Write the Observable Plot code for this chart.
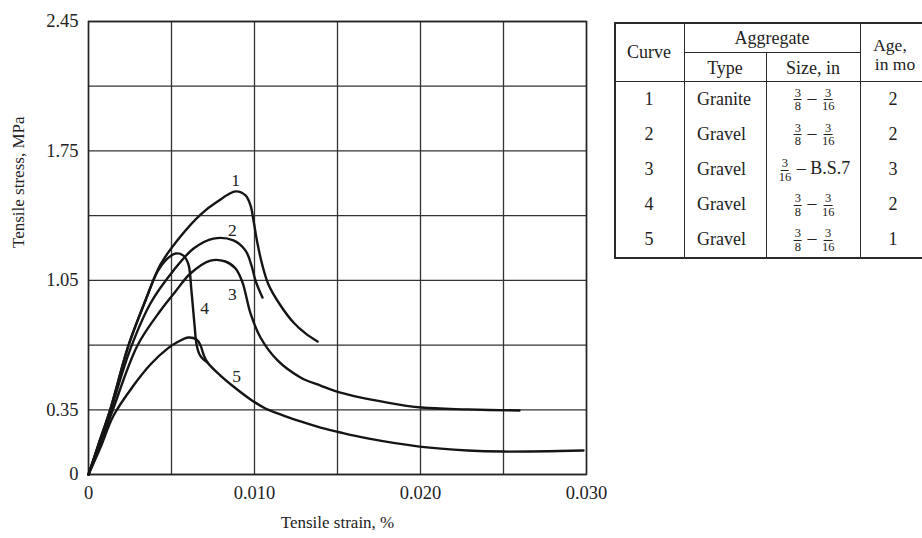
<!DOCTYPE html>
<html>
<head>
<meta charset="utf-8">
<script src="https://cdn.jsdelivr.net/npm/d3@7"></script>
<script src="https://cdn.jsdelivr.net/npm/@observablehq/plot@0.6"></script>
<style>
  html, body { margin: 0; padding: 0; background: #fff; }
  #wrap { position: relative; width: 922px; height: 538px; overflow: hidden; font-family: "Liberation Serif", "DejaVu Serif", serif; color: #222; }
  #wrap svg { position: absolute; left: 0; top: 0; }
  .ln { position: absolute; background: #2a2a2a; }
  .tx { position: absolute; transform: translate(-50%, -50%); font-size: 18px; white-space: nowrap; line-height: 1.0; text-align: center; }
  .txl { position: absolute; transform: translate(0, -50%); font-size: 18px; white-space: nowrap; line-height: 1.0; }
  .frac { display: inline-flex; flex-direction: column; align-items: center; font-size: 12.5px; line-height: 1.0; vertical-align: middle; margin: 0 1px; }
  .frac .n { border-bottom: 1px solid #222; padding: 0 1px; }
</style>
</head>
<body>
<div id="wrap"></div>
<script>
// ---- Data (strain in %, stress in MPa) ----
const curve1X = [0, 0.00060, 0.00133, 0.00241, 0.00343, 0.00434, 0.00554, 0.00675, 0.00777, 0.00886, 0.00946, 0.00976, 0.00994, 0.01018, 0.01048, 0.01084, 0.01157, 0.01235, 0.01307, 0.01380];
const curve1Y = [0, 0.162, 0.357, 0.698, 0.941, 1.136, 1.287, 1.406, 1.476, 1.531, 1.509, 1.455, 1.374, 1.249, 1.130, 1.028, 0.914, 0.822, 0.763, 0.719];

const curve2X = [0, 0.00060, 0.00133, 0.00253, 0.00373, 0.00512, 0.00633, 0.00753, 0.00873, 0.00946, 0.00982, 0.01006, 0.01048];
const curve2Y = [0, 0.157, 0.346, 0.681, 0.925, 1.103, 1.222, 1.276, 1.266, 1.211, 1.130, 1.049, 0.957];

const curve3X = [0, 0.00066, 0.00145, 0.00295, 0.00434, 0.00524, 0.00614, 0.00735, 0.00825, 0.00886, 0.00928, 0.00976, 0.01036, 0.01139, 0.01277, 0.01398, 0.01518, 0.01801, 0.02006, 0.02283, 0.02596];
const curve3Y = [0, 0.151, 0.346, 0.698, 0.887, 0.990, 1.087, 1.157, 1.152, 1.114, 1.038, 0.871, 0.741, 0.617, 0.525, 0.481, 0.443, 0.389, 0.362, 0.352, 0.346];

const curve4X = [0, 0.00060, 0.00133, 0.00241, 0.00343, 0.00416, 0.00470, 0.00524, 0.00572, 0.00602, 0.00620, 0.00639, 0.00651, 0.00669, 0.00693, 0.00717];
const curve4Y = [0, 0.162, 0.357, 0.698, 0.941, 1.098, 1.163, 1.195, 1.184, 1.136, 0.995, 0.806, 0.703, 0.649, 0.622, 0.606];

const curve5X = [0, 0.00072, 0.00151, 0.00271, 0.00373, 0.00476, 0.00542, 0.00602, 0.00651, 0.00675, 0.00693, 0.00717, 0.00795, 0.00873, 0.00976, 0.01066, 0.01175, 0.01277, 0.01398, 0.01518, 0.01681, 0.01994, 0.02283, 0.02494, 0.02982];
const curve5Y = [0, 0.146, 0.319, 0.481, 0.595, 0.681, 0.719, 0.741, 0.730, 0.698, 0.649, 0.606, 0.535, 0.476, 0.406, 0.357, 0.319, 0.287, 0.254, 0.227, 0.195, 0.151, 0.130, 0.124, 0.130];

const curveNames = ["1", "2", "3", "4", "5"];
const labelX = [0.00886, 0.00867, 0.00867, 0.00699, 0.00892];
const labelY = [1.590, 1.320, 0.973, 0.898, 0.530];

const xTicks = [0, 0.010, 0.020, 0.030];
const yTicks = [0, 0.35, 1.05, 1.75, 2.45];
const xGrid = [0, 0.005, 0.010, 0.015, 0.020, 0.025, 0.030];
const yGrid = [0, 0.35, 0.70, 1.05, 1.40, 1.75, 2.10, 2.45];

// Table data
const tableCurve = ["1", "2", "3", "4", "5"];
const tableType = ["Granite", "Gravel", "Gravel", "Gravel", "Gravel"];
const sizeFrom = ["3/8", "3/8", "3/16", "3/8", "3/8"];
const sizeTo = ["3/16", "3/16", "B.S.7", "3/16", "3/16"];
const tableAge = ["2", "2", "3", "2", "1"];

// ---- Build rows ----
const allX = [curve1X, curve2X, curve3X, curve4X, curve5X];
const allY = [curve1Y, curve2Y, curve3Y, curve4Y, curve5Y];
const rows = [];
allX.forEach((xs, i) => xs.forEach((x, j) => rows.push({curve: curveNames[i], x, y: allY[i][j]})));
const labels = curveNames.map((c, i) => ({c, x: labelX[i], y: labelY[i]}));

const serif = "'Liberation Serif', serif";
const chart = Plot.plot({
  width: 922,
  height: 538,
  marginLeft: 88,
  marginRight: 336,
  marginTop: 21,
  marginBottom: 64,
  style: {fontFamily: serif, color: "#222", background: "transparent"},
  x: {domain: [0, 0.03]},
  y: {domain: [0, 2.45]},
  marks: [
    Plot.ruleX(xGrid, {stroke: "#333", strokeWidth: 1.3}),
    Plot.ruleY(yGrid, {stroke: "#333", strokeWidth: 1.3}),
    Plot.frame({stroke: "#222", strokeWidth: 1.5}),
    Plot.axisX({ticks: xTicks, tickSize: 0, tickPadding: 11, fontSize: 18.5, fontFamily: serif, fill: "#222",
      tickFormat: d => d === 0 ? "0" : d.toFixed(3), label: null}),
    Plot.axisY({ticks: yTicks, tickSize: 0, tickPadding: 10, fontSize: 18.5, fontFamily: serif, fill: "#222",
      tickFormat: d => d === 0 ? "0" : d.toFixed(2), label: null}),
    Plot.line(rows, {x: "x", y: "y", z: "curve", stroke: "#151515", strokeWidth: 2.4, curve: "catmull-rom"}),
    Plot.text(labels, {x: "x", y: "y", text: "c", fontSize: 17.5, fontFamily: serif, fill: "#222"}),
    Plot.text(["Tensile strain, %"], {frameAnchor: "bottom", dy: 53, fontSize: 17, fontFamily: serif, fill: "#222"}),
    Plot.text(["Tensile stress, MPa"], {frameAnchor: "left", dx: -70, rotate: -90, fontSize: 17, fontFamily: serif, fill: "#222"})
  ]
});

const wrap = document.getElementById("wrap");
wrap.appendChild(chart);

// ---- Table (HTML) ----
function line(l, t, w, h) {
  const d = document.createElement("div");
  d.className = "ln";
  Object.assign(d.style, {left: l + "px", top: t + "px", width: w + "px", height: h + "px"});
  wrap.appendChild(d);
}
function text(html, cx, cy, cls = "tx") {
  const d = document.createElement("div");
  d.className = cls;
  d.innerHTML = html;
  Object.assign(d.style, {left: cx + "px", top: cy + "px"});
  wrap.appendChild(d);
  return d;
}
function frac(s) {
  if (!s.includes("/")) return s;
  const [n, m] = s.split("/");
  return `<span class="frac"><span class="n">${n}</span><span>${m}</span></span>`;
}

const tL = 614, tT = 22, tB = 257, tR = 960;
const c1 = 684, c2 = 766, c3 = 860;
const h1 = 52, h2 = 81;
line(tL, tT, tR - tL, 1.5);
line(tL, tB, tR - tL, 1.5);
line(tL, tT, 1.5, tB - tT + 1.5);
line(c1, tT, 1.3, tB - tT);
line(c2, h1, 1.3, tB - h1);
line(c3, tT, 1.3, tB - tT);
line(c1, h1, c3 - c1, 1.3);
line(tL, h2, tR - tL, 1.3);

text("Curve", (tL + c1) / 2, (tT + h2) / 2);
text("Aggregate", (c1 + c3) / 2, (tT + h1) / 2 + 1);
text("Type", (c1 + c2) / 2, (h1 + h2) / 2 + 1);
text("Size, in", (c2 + c3) / 2, (h1 + h2) / 2 + 1);
text("Age,", 890, 46).style.fontSize = "17.5px";
text("in mo", 895, 64.5).style.fontSize = "17.5px";

const rowH = (tB - h2) / 5;
tableCurve.forEach((c, i) => {
  const cy = h2 + rowH * (i + 0.5);
  text(c, (tL + c1) / 2, cy);
  text(tableType[i], 697, cy, "txl");
  text(frac(sizeFrom[i]) + " – " + frac(sizeTo[i]), (c2 + c3) / 2 + 1, cy + 1);
  text(tableAge[i], 893, cy);
});
</script>
</body>
</html>
